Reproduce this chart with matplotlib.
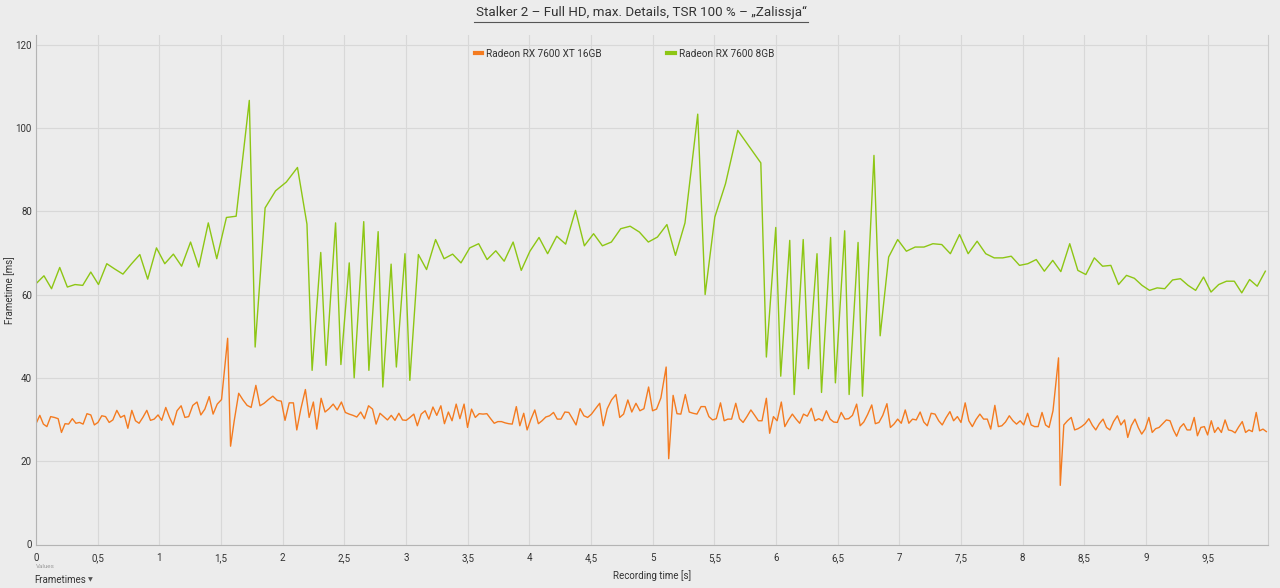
import numpy as np
import matplotlib
matplotlib.use('Agg')
from matplotlib import pyplot as plt
from matplotlib.lines import Line2D
from matplotlib.ticker import FuncFormatter

plt.rcParams['font.family'] = ['Roboto', 'DejaVu Sans']

title = 'Stalker 2 – Full HD, max. Details, TSR 100 % – „Zalissja“'
series_names = ['Radeon RX 7600 XT 16GB', 'Radeon RX 7600 8GB']
series_colors = ['#f47b20', '#8dc614']
x_ticks = np.arange(0, 10, 0.5)
y_ticks = np.arange(0, 121, 20)

# frametimes in ms, in recording order (x = running sum of frametimes)
ft_xt16 = [
    29.0, 31.0, 28.9, 28.3, 30.7, 30.5, 30.2, 26.9, 29.0, 28.9, 30.2, 29.1, 29.3, 28.9, 31.4, 31.1,
    28.7, 29.3, 30.9, 30.7, 29.3, 29.9, 32.2, 30.5, 31.0, 27.9, 32.2, 29.7, 29.1, 30.5, 32.2, 29.8,
    30.1, 31.1, 29.8, 32.9, 30.5, 28.7, 32.1, 33.3, 30.5, 30.7, 33.4, 34.2, 31.1, 32.5, 35.5, 31.3,
    33.7, 34.8, 49.5, 23.6, 29.7, 36.3, 34.7, 33.4, 32.9, 38.2, 33.3, 33.9, 34.8, 35.6, 34.6, 34.4,
    29.8, 34.0, 34.0, 27.5, 32.5, 37.2, 30.5, 34.2, 27.7, 35.1, 31.8, 32.6, 33.7, 32.3, 34.2, 31.7,
    31.3, 31.0, 30.6, 31.8, 30.2, 33.3, 32.5, 28.9, 31.5, 30.7, 29.9, 31.0, 29.8, 31.5, 29.9, 29.8,
    30.5, 31.3, 28.5, 31.3, 32.1, 30.1,
    33.0, 31.0, 33.3, 29.0, 31.8, 29.7, 33.7, 30.2, 33.7, 28.1, 32.5, 30.5, 31.4, 31.3, 31.4, 30.2,
    29.1, 29.5, 29.5, 29.2, 29.0, 28.9, 33.1, 28.5, 31.5, 27.5, 30.0, 32.3, 29.0, 29.7, 30.6, 30.9,
    31.7, 30.1, 30.1, 31.8, 31.7, 30.2, 28.7, 32.6, 30.9, 30.5, 31.3, 32.6, 33.9, 28.5, 32.6, 34.7,
    36.0, 30.5, 31.3, 34.7, 31.8, 33.9, 32.1, 32.6, 37.8, 32.1, 32.5, 35.2, 42.6, 20.6, 35.8, 31.4,
    31.3, 36.0, 31.8, 31.5, 31.3, 33.1, 33.1, 30.7, 29.9, 30.2, 34.0, 29.7, 30.1, 30.1, 33.9, 30.2,
    29.3, 30.7, 32.3, 31.0, 29.7, 29.7, 35.1, 26.7, 30.7, 29.7, 34.2, 28.3, 29.9, 31.3, 30.1, 29.1,
    31.3, 30.8, 32.7, 29.7, 30.2, 29.7, 32.1, 30.1, 29.4, 29.3, 31.7, 30.1, 30.2, 31.0, 33.7, 28.5,
    29.4, 31.2, 33.5, 29.0, 29.3, 31.0, 33.8, 28.1, 28.9, 30.1,
    29.1, 32.3, 29.1, 30.1, 29.9, 31.8, 29.4, 28.5, 31.5, 31.3, 29.7, 28.7, 30.4, 31.9, 29.7, 30.7,
    29.3, 34.0, 29.7, 28.3, 30.0, 31.3, 30.1, 30.1, 27.7, 33.4, 28.3, 28.5, 29.4, 30.9, 29.7, 28.9,
    29.7, 28.7, 31.5, 28.7, 28.3, 28.3, 31.7, 28.7, 28.1, 32.1, 44.8, 14.2, 28.7, 29.7, 30.5, 27.5,
    27.8, 28.3, 29.0, 30.2, 28.6, 27.5, 29.0, 30.1, 28.1, 27.5, 29.5, 30.9, 28.7, 29.9, 25.7, 28.5,
    30.1, 28.0, 26.5, 27.7, 30.5, 26.9, 27.8, 28.1, 29.0, 29.9, 29.7, 27.5, 26.0, 28.1, 29.0, 27.5,
    27.5, 30.5, 26.1, 28.1, 28.3, 26.3, 29.7, 26.9, 28.1, 26.9, 29.9, 27.5, 27.3, 26.8, 28.2, 29.5,
    26.9, 27.5, 27.1, 31.7, 27.3, 27.7, 27.1,
]

ft_8gb = [
    62.6, 64.5, 61.4, 66.5, 61.8, 62.4, 62.2, 65.4, 62.4, 67.4, 66.1, 64.9, 67.3, 69.6, 63.7, 71.2,
    67.4, 69.7, 66.8, 72.6, 66.6, 77.2, 68.6, 78.5, 78.8, 106.6, 47.4, 80.8, 84.9, 87.0, 90.5, 76.9,
    41.8, 70.1, 43.0, 77.2, 43.2, 67.6, 40.0, 77.5, 41.8, 75.1, 37.8, 67.3, 42.6, 69.8, 39.4, 69.6,
    66.0, 73.2, 68.6, 69.7, 67.6, 71.2, 72.2, 68.4, 70.5, 68.0, 72.6, 65.8, 70.4, 73.7, 69.8, 74.0,
    72.1, 80.2, 71.7, 74.6, 71.7, 72.6, 75.8, 76.4, 75.0, 72.6, 73.8, 76.8, 69.4, 77.2, 103.3, 60.0,
    78.6, 86.6, 99.4, 95.4, 91.6, 45.0, 76.1, 40.4, 73.0, 36.0, 73.2, 42.2, 69.8, 36.5, 73.7, 38.8,
    75.3, 36.0, 72.5, 35.6, 93.4, 50.1, 69.0, 73.2, 70.4, 71.4, 71.4, 72.2, 72.0, 69.8, 74.4, 69.8,
    72.8, 69.8, 68.8, 68.8, 69.2, 67.0, 67.4, 68.4, 65.6, 68.2, 65.5, 72.2, 65.8, 64.8, 68.8, 66.8,
    67.0, 62.4, 64.6, 63.9, 62.2, 61.0, 61.6, 61.4, 63.5, 63.8, 62.2, 61.0, 64.2, 60.6, 62.4, 63.2,
    63.2, 60.4, 63.6, 62.0, 65.6,
]


def frame_times(ft):
    ft = np.asarray(ft, dtype=float)
    t = np.concatenate([[0.0], np.cumsum(ft[1:])]) / 1000
    return t, ft


fig = plt.figure(figsize=(12.8, 5.88), dpi=100, facecolor='#ececec')
ax = fig.add_axes([36 / 1280, 1 - 544.5 / 588, 1232 / 1280, 509.5 / 588])
ax.set_facecolor('#ececec')

for ft, name, color in zip([ft_xt16, ft_8gb], series_names, series_colors):
    t, v = frame_times(ft)
    ax.plot(t, v, color=color, lw=1.0, label=name)

ax.set_xlim(0, 9.99)
ax.set_ylim(0, 122.3)
ax.set_xticks(x_ticks)
ax.set_yticks(y_ticks)
ax.xaxis.set_major_formatter(FuncFormatter(lambda x, p: f'{x:g}'.replace('.', ',')))
ax.grid(True, color='#d8d8d8', lw=0.8)
ax.set_axisbelow(True)
ax.tick_params(length=0, labelsize=7, colors='#333333')
ax.tick_params(axis='x', pad=6)
ax.tick_params(axis='y', pad=3)
ax.spines['top'].set_visible(False)
for side in ['left', 'bottom']:
    ax.spines[side].set_color('#b4b4b4')
ax.spines['right'].set_color('#cccccc')

ax.set_xlabel('Recording time [s]', fontsize=7, color='#333333', labelpad=5)
ax.set_ylabel('Frametime [ms]', fontsize=7, color='#333333', labelpad=0)

leg = ax.legend(loc='center', bbox_to_anchor=((624.5 - 36) / 1232, (544.5 - 54) / 509.5),
                ncol=2, frameon=False, fontsize=7.2, handlelength=0.75, columnspacing=6.5,
                handletextpad=0.45)
for line in leg.get_lines():
    line.set_linewidth(3)
for text in leg.get_texts():
    text.set_color('#333333')

t_title = fig.text(0.5008, 1 - 12 / 588, title, ha='center', va='center', fontsize=9.6, color='#333333')
fig.text(36 / 1280, 1 - 567 / 588, 'Values', fontsize=4.5, color='#9a9a9a', va='center')
fig.text(34 / 1280, 1 - 580 / 588, 'Frametimes', fontsize=7, color='#333333', va='center')
fig.text(88 / 1280, 1 - 580 / 588, '▼', fontsize=4.5, color='#555555', va='center',
         family=['DejaVu Sans'])

fig.canvas.draw()
bb = t_title.get_window_extent().transformed(fig.transFigure.inverted())
fig.add_artist(Line2D([bb.x0 - 0.001, bb.x1 + 0.001], [1 - 22 / 588] * 2, color='#555555', lw=0.8,
                      transform=fig.transFigure))

fig.savefig('out.png', dpi=100, facecolor=fig.get_facecolor())
